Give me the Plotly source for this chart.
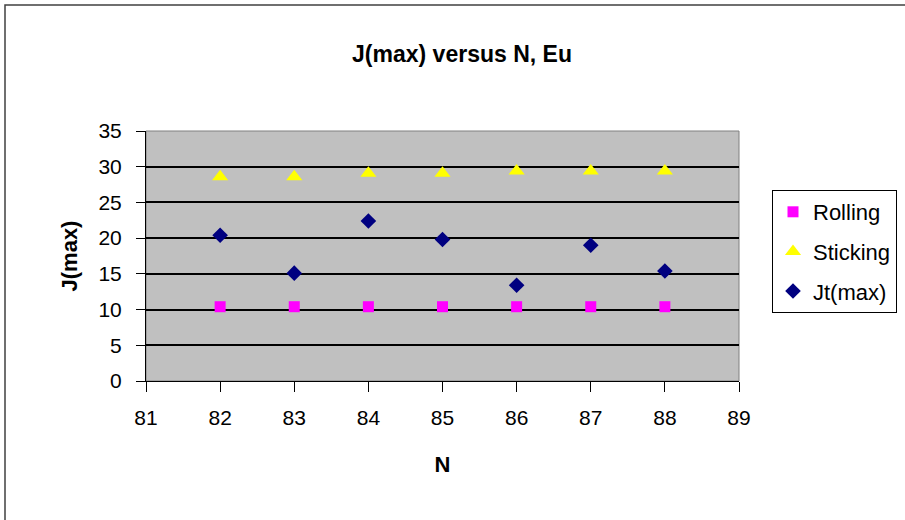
import plotly.graph_objects as go

N = [82, 83, 84, 85, 86, 87, 88]
rolling = [10.4, 10.4, 10.4, 10.4, 10.4, 10.4, 10.4]
sticking = [28.6, 28.6, 29.1, 29.1, 29.4, 29.4, 29.4]
jt_max = [20.4, 15.1, 22.4, 19.8, 13.4, 19.0, 15.4]

W, H = 905, 520
L, R, T, B = 146, 739, 131, 381

FONT = "Liberation Sans, Arial, sans-serif"

fig = go.Figure()
fig.add_trace(go.Scatter(x=N, y=rolling, mode="markers", name="Rolling", legendgroup="a",
                         marker=dict(symbol="square", size=11, color="#FF00FF")))
fig.add_trace(go.Scatter(x=N, y=sticking, mode="markers", name="Sticking", legendgroup="b",
                         marker=dict(symbol="triangle-up", size=14, color="#FFFF00")))
fig.add_trace(go.Scatter(x=N, y=jt_max, mode="markers", name="Jt(max)", legendgroup="c",
                         marker=dict(symbol="diamond", size=12, color="#000080")))

pw = R - L
ph = B - T

def px(x):
    return (x - L) / pw

def py(y):
    return (B - y) / ph

fig.update_layout(
    width=W, height=H,
    margin=dict(l=L, r=W - R, t=T, b=H - B, autoexpand=False),
    paper_bgcolor="white",
    plot_bgcolor="#C0C0C0",
    font=dict(family=FONT, size=21, color="black"),
    title=dict(text="<b>J(max) versus N, Eu</b>", x=462 / W, xanchor="center",
               y=1 - 54 / H, yanchor="middle", font=dict(size=23)),
    xaxis=dict(range=[81, 89], dtick=1, tick0=81, showgrid=False, zeroline=False,
               showline=True, linecolor="black", linewidth=1,
               ticks="outside", ticklen=10, tickcolor="black", ticklabelstandoff=8,
               automargin=False,
               title=dict(text="<b>N</b>", standoff=28, font=dict(size=22))),
    yaxis=dict(range=[0, 35], dtick=5, showgrid=True, gridcolor="black", gridwidth=1.5,
               zeroline=False, showline=True, linecolor="black", linewidth=1,
               ticks="outside", ticklen=9, tickcolor="black", ticklabelstandoff=10,
               automargin=False,
               title=dict(text="<b>J(max)</b>", standoff=14, font=dict(size=22))),
    legend=dict(x=px(772), y=py(190), xanchor="left", yanchor="top",
                bgcolor="white", bordercolor="black", borderwidth=1,
                font=dict(size=22), tracegroupgap=8, traceorder="grouped",
                itemwidth=30),
    showlegend=True,
    shapes=[
        dict(type="rect", xref="paper", yref="paper", x0=0, x1=1, y0=0, y1=1,
             line=dict(color="#808080", width=1), layer="below"),
        dict(type="rect", xref="paper", yref="paper",
             x0=px(5), x1=px(W + 10), y0=py(H + 10), y1=py(5),
             line=dict(color="#404040", width=1.5)),
    ],
)

fig.write_html("out.html")
